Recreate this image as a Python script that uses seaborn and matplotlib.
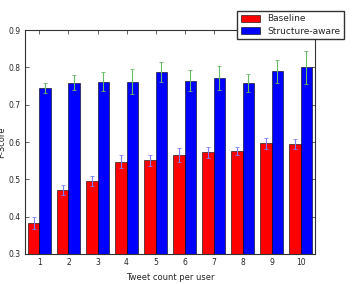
import pandas as pd
import seaborn as sns
import matplotlib.pyplot as plt

# Data
tweet_counts = ["1", "2", "3", "4", "5", "6", "7", "8", "9", "10"]
baseline = [0.384, 0.472, 0.496, 0.547, 0.551, 0.565, 0.572, 0.576, 0.596, 0.594]
baseline_err = [0.016, 0.014, 0.013, 0.017, 0.015, 0.018, 0.014, 0.011, 0.014, 0.013]
structure = [0.744, 0.759, 0.762, 0.762, 0.787, 0.764, 0.772, 0.757, 0.790, 0.800]
structure_err = [0.013, 0.020, 0.025, 0.033, 0.027, 0.028, 0.033, 0.024, 0.031, 0.045]

df = pd.DataFrame({
    "count": tweet_counts * 2,
    "score": baseline + structure,
    "err": baseline_err + structure_err,
    "method": ["Baseline"] * 10 + ["Structure-aware"] * 10,
})

sns.set_style("ticks")
plt.rcParams["font.family"] = ["DejaVu Sans"]

fig = plt.figure(figsize=(3.52, 2.84), dpi=100)
ax = fig.add_axes([0.071, 0.106, 0.824, 0.788])

sns.barplot(data=df, x="count", y="score", hue="method", order=tweet_counts,
            palette={"Baseline": "#ff0000", "Structure-aware": "#0000ff"},
            errorbar=None, width=0.82, gap=0, edgecolor="black", linewidth=0.4,
            saturation=1, ax=ax)

# error bars on top of each bar
ecolors = {"Baseline": "#7f7fff", "Structure-aware": "#66bb66"}
n = len(tweet_counts)
for i, patch in enumerate(ax.patches[:2 * n]):
    row = df.iloc[i]
    xc = patch.get_x() + patch.get_width() / 2
    ax.errorbar(xc, patch.get_height(), yerr=row["err"], fmt="none",
                ecolor=ecolors[row["method"]], elinewidth=0.8, capsize=1.5,
                capthick=0.6)

ax.set_ylim(0.3, 0.9)
ax.set_xlim(-0.5, n - 0.5)
ax.set_yticks([0.3, 0.4, 0.5, 0.6, 0.7, 0.8, 0.9])
ax.set_xlabel("Tweet count per user", fontsize=6)
ax.set_ylabel("F-Score", fontsize=6, labelpad=2)
ax.tick_params(labelsize=5.5, direction="in", length=3, width=0.5,
               top=True, right=True, pad=3)
for s in ax.spines.values():
    s.set_linewidth(0.8)
    s.set_color("#333333")

handles, labels = ax.get_legend_handles_labels()
ax.legend(handles, labels, loc="upper right", bbox_to_anchor=(0.989, 0.978),
          bbox_transform=fig.transFigure, fontsize=6.5, frameon=True,
          fancybox=False, edgecolor="#333333", framealpha=1,
          handlelength=2.1, handleheight=0.8, borderpad=0.4,
          labelspacing=0.35)

fig.savefig("out.png", dpi=100)
